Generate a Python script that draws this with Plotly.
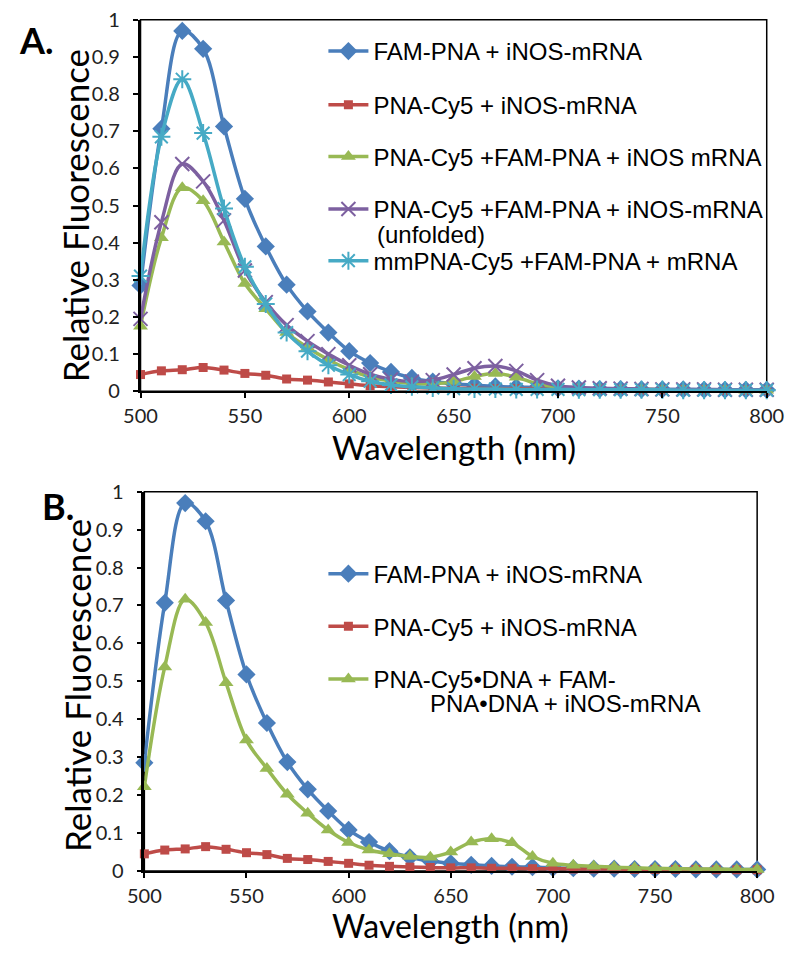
import plotly.graph_objects as go

# ---------------- data ----------------
wavelength = [500, 510, 520, 530, 540, 550, 560, 570, 580, 590, 600, 610, 620, 630, 640, 650,
              660, 670, 680, 690, 700, 710, 720, 730, 740, 750, 760, 770, 780, 790, 800]

# Panel A
fam_A = [0.285, 0.707, 0.970, 0.922, 0.713, 0.518, 0.390, 0.287, 0.215, 0.158, 0.108, 0.076, 0.052, 0.036, 0.026, 0.020,
         0.016, 0.013, 0.011, 0.010, 0.008, 0.007, 0.006, 0.006, 0.005, 0.005, 0.005, 0.004, 0.004, 0.004, 0.004]
cy5_A = [0.045, 0.055, 0.058, 0.064, 0.057, 0.048, 0.043, 0.033, 0.030, 0.025, 0.020, 0.015, 0.012, 0.010, 0.009, 0.008,
         0.008, 0.007, 0.007, 0.006, 0.006, 0.005, 0.005, 0.005, 0.004, 0.004, 0.004, 0.004, 0.003, 0.003, 0.003]
both_A = [0.175, 0.413, 0.548, 0.513, 0.402, 0.290, 0.222, 0.158, 0.118, 0.085, 0.058, 0.038, 0.027, 0.021, 0.020, 0.026,
          0.040, 0.048, 0.038, 0.020, 0.011, 0.008, 0.006, 0.005, 0.005, 0.004, 0.004, 0.004, 0.004, 0.003, 0.003]
unfolded_A = [0.195, 0.455, 0.612, 0.565, 0.460, 0.325, 0.240, 0.178, 0.135, 0.100, 0.070, 0.046, 0.032, 0.026, 0.030, 0.045,
              0.062, 0.068, 0.055, 0.030, 0.015, 0.010, 0.008, 0.007, 0.006, 0.005, 0.005, 0.005, 0.004, 0.004, 0.004]
mm_A = [0.310, 0.685, 0.840, 0.695, 0.492, 0.335, 0.235, 0.158, 0.108, 0.070, 0.045, 0.027, 0.017, 0.012, 0.009, 0.007,
        0.006, 0.006, 0.005, 0.005, 0.005, 0.004, 0.004, 0.004, 0.004, 0.004, 0.003, 0.003, 0.003, 0.003, 0.003]

# Panel B
fam_B = [0.285, 0.707, 0.970, 0.922, 0.713, 0.518, 0.390, 0.287, 0.215, 0.158, 0.108, 0.076, 0.052, 0.036, 0.026, 0.020,
         0.016, 0.013, 0.011, 0.010, 0.008, 0.007, 0.006, 0.006, 0.005, 0.005, 0.005, 0.004, 0.004, 0.004, 0.004]
cy5_B = [0.045, 0.055, 0.058, 0.064, 0.057, 0.048, 0.043, 0.033, 0.030, 0.025, 0.020, 0.015, 0.012, 0.010, 0.009, 0.008,
         0.008, 0.007, 0.007, 0.006, 0.006, 0.005, 0.005, 0.005, 0.004, 0.004, 0.004, 0.004, 0.003, 0.003, 0.003]
dna_B = [0.222, 0.538, 0.716, 0.655, 0.496, 0.345, 0.270, 0.202, 0.152, 0.108, 0.075, 0.055, 0.045, 0.038, 0.036, 0.050,
         0.076, 0.085, 0.074, 0.038, 0.020, 0.015, 0.012, 0.010, 0.008, 0.007, 0.006, 0.005, 0.005, 0.004, 0.004]

names_A = ["FAM-PNA + iNOS-mRNA", "PNA-Cy5 + iNOS-mRNA", "PNA-Cy5 +FAM-PNA + iNOS mRNA",
           "PNA-Cy5 +FAM-PNA + iNOS-mRNA", "mmPNA-Cy5 +FAM-PNA + mRNA"]
names_A_wrap = "(unfolded)"
names_B = ["FAM-PNA + iNOS-mRNA", "PNA-Cy5 + iNOS-mRNA", "PNA-Cy5\u2022DNA + FAM-"]
names_B_wrap = "PNA\u2022DNA + iNOS-mRNA"
x_ticks = [500, 550, 600, 650, 700, 750, 800]
y_ticks = [0, 0.1, 0.2, 0.3, 0.4, 0.5, 0.6, 0.7, 0.8, 0.9, 1]
y_ticktext = ["0", "0.1", "0.2", "0.3", "0.4", "0.5", "0.6", "0.7", "0.8", "0.9", "1"]
x_title = "Wavelength (nm)"
y_title = "Relative Fluorescence"

# ---------------- styles ----------------
BLUE, RED, GREEN, PURPLE, CYAN = "#4A7EBB", "#BE4B48", "#98B954", "#7D60A0", "#46AAC5"
styles = {
    "fam": dict(color=BLUE, symbol="diamond", size=14, lw=0),
    "cy5": dict(color=RED, symbol="square", size=9, lw=0),
    "both": dict(color=GREEN, symbol="triangle-up", size=13, lw=0),
    "unf": dict(color=PURPLE, symbol="x-thin-open", size=14, lw=2),
    "mm": dict(color=CYAN, symbol="asterisk-open", size=15, lw=2),
}

W, H = 800, 956
FIG_FONT = "Lato, Carlito, Calibri, sans-serif"
LEG_FONT = "Liberation Sans, Arial, sans-serif"

fig = go.Figure()


def add(x, y, key, name, xa, ya, legend):
    s = styles[key]
    fig.add_trace(go.Scatter(
        x=x, y=y, name=name, mode="lines+markers",
        line=dict(color=s["color"], width=3.5, shape="spline", smoothing=1),
        marker=dict(symbol=s["symbol"], size=s["size"], color=s["color"],
                    line=dict(color=s["color"], width=s["lw"])),
        xaxis=xa, yaxis=ya, legend=legend, cliponaxis=False,
    ))


add(wavelength, fam_A, "fam", names_A[0], "x", "y", "legend")
add(wavelength, cy5_A, "cy5", names_A[1], "x", "y", "legend2")
add(wavelength, both_A, "both", names_A[2], "x", "y", "legend3")
add(wavelength, unfolded_A, "unf", names_A[3], "x", "y", "legend4")
add(wavelength, mm_A, "mm", names_A[4], "x", "y", "legend5")

add(wavelength, fam_B, "fam", names_B[0], "x2", "y2", "legend6")
add(wavelength, cy5_B, "cy5", names_B[1], "x2", "y2", "legend7")
add(wavelength, dna_B, "both", names_B[2], "x2", "y2", "legend8")

# panel geometry in pixels
A_left, A_right, A_top, A_bot = 129, 783, 7, 388
B_left, B_right, B_top, B_bot = 133, 773, 491, 880


def px_x(v):
    return v / W


def px_y(v):
    return 1 - v / H


def xaxis_cfg(left, right, anchor):
    return dict(domain=[px_x(left), px_x(right)], range=[500, 800], anchor=anchor,
                tickvals=x_ticks, ticks="outside", ticklen=5, tickwidth=1.5, tickcolor="black",
                showline=True, linecolor="black", linewidth=2, showgrid=False, zeroline=False,
                ticklabelstandoff=1,
                tickfont=dict(family=FIG_FONT, size=20, color="#222"))


def yaxis_cfg(top, bot, anchor):
    return dict(domain=[px_y(bot), px_y(top)], range=[0, 1], anchor=anchor,
                tickvals=y_ticks, ticktext=y_ticktext, ticks="outside", ticklen=5, tickwidth=1.5,
                tickcolor="black", showline=True, linecolor="black", linewidth=2.5,
                showgrid=False, zeroline=False, ticklabelstandoff=9,
                tickfont=dict(family=FIG_FONT, size=20, color="#222"))


leg_common = dict(font=dict(family=LEG_FONT, size=24, color="black"), bgcolor="rgba(0,0,0,0)",
                  borderwidth=0, xanchor="left", yanchor="top", itemwidth=40, valign="middle")

LEG_X = 320
legend_rows = {
    "legend": 37, "legend2": 92, "legend3": 145, "legend4": 199, "legend5": 252,
    "legend6": 573, "legend7": 627, "legend8": 681,
}
legend_layout = {}
for k, ly in legend_rows.items():
    legend_layout[k] = dict(leg_common, x=px_x(LEG_X), y=px_y(ly - 20.6))


def text_ann(text, x, y, size, family, xanchor="left", bold=False, angle=0):
    return dict(text=f"<b>{text}</b>" if bold else text, x=px_x(x), y=px_y(y), xref="paper", yref="paper",
                xanchor=xanchor, yanchor="middle", showarrow=False, textangle=angle,
                font=dict(family=family, size=size, color="black"))


annotations = [
    text_ann("A.", 0, 28, 36, FIG_FONT, bold=True),
    text_ann("B.", 24, 506, 36, FIG_FONT, bold=True),
    # wrapped second lines of legend entries
    text_ann(names_A_wrap, 374, 227, 24, LEG_FONT),
    text_ann(names_B_wrap, 429, 708, 24, LEG_FONT),
    # axis titles
    text_ann(x_title, (A_left + A_right) / 2, 445, 33, FIG_FONT, xanchor="center"),
    text_ann(x_title, (B_left + B_right) / 2, 936, 32, FIG_FONT, xanchor="center"),
    text_ann(y_title, 60, 208, 35, FIG_FONT, xanchor="center", angle=-90),
    text_ann(y_title, 62, 690, 35, FIG_FONT, xanchor="center", angle=-90),
]

fig.update_layout(
    width=W, height=H, autosize=False,
    margin=dict(l=0, r=0, t=0, b=0),
    paper_bgcolor="white", plot_bgcolor="white",
    showlegend=True,
    xaxis=xaxis_cfg(A_left, A_right, "y"),
    yaxis=yaxis_cfg(A_top, A_bot, "x"),
    xaxis2=xaxis_cfg(B_left, B_right, "y2"),
    yaxis2=yaxis_cfg(B_top, B_bot, "x2"),
    shapes=[
        dict(type="rect", xref="x domain", yref="y domain", x0=0, x1=1, y0=0, y1=1,
             line=dict(color="black", width=1.5), layer="below"),
        dict(type="rect", xref="x2 domain", yref="y2 domain", x0=0, x1=1, y0=0, y1=1,
             line=dict(color="black", width=1.5), layer="below"),
    ],
    annotations=annotations,
    **legend_layout,
)

fig.write_html("out.html", config={"displayModeBar": False},
               post_script="document.body.style.margin='0px';")
